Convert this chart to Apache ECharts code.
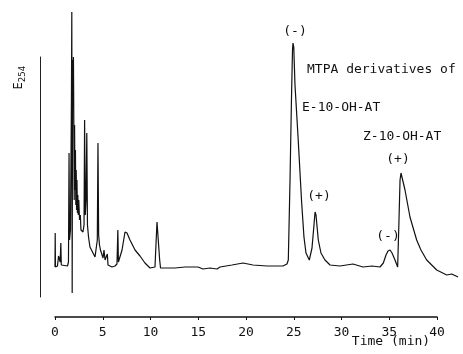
<!DOCTYPE html>
<html>
<head>
<meta charset="utf-8">
<script src="https://cdn.jsdelivr.net/npm/echarts@6/dist/echarts.min.js"></script>
<style>
html,body{margin:0;padding:0;background:#fff;}
#chart{width:463px;height:354px;}
</style>
</head>
<body>
<div id="chart"></div>
<script>
// Retention time (min)
var times = [0,0.02,0.05,0.26,0.37,0.47,0.54,0.61,0.66,0.84,1.31,1.41,1.47,1.52,1.62,1.72,1.76,1.80,1.84,1.88,1.93,1.97,2.01,2.05,2.09,2.14,2.18,2.22,2.26,2.30,2.35,2.39,2.44,2.49,2.57,2.65,2.72,2.83,2.93,3.04,3.10,3.17,3.25,3.33,3.40,3.51,3.66,3.98,4.19,4.35,4.43,4.50,4.57,4.66,4.76,4.92,5.03,5.13,5.24,5.39,5.48,5.55,5.97,6.28,6.49,6.58,6.64,6.81,7.02,7.33,7.54,7.85,8.38,8.90,9.42,9.95,10.47,10.63,10.68,10.79,10.87,10.96,11.05,11.52,12.57,13.61,14.97,15.50,16.23,16.96,17.28,18.53,19.69,20.73,22.20,23.87,24.29,24.43,24.61,24.76,24.87,24.92,25.00,25.13,25.45,25.83,26.07,26.28,26.63,26.91,27.12,27.23,27.33,27.57,27.85,28.27,28.80,29.84,31.20,32.25,33.19,34.03,34.38,34.66,34.87,35.08,35.29,35.60,35.88,36.02,36.13,36.23,36.34,36.65,37.17,37.87,38.32,38.92,39.97,41.02,41.54,42.20];
// Detector response E254 (arbitrary units, baseline ~ 0)
var absorbance = [0,34,0,1,11,9,5,24,2,1,1,5,114,27,37,167,255,-26,207,167,210,147,67,142,77,117,62,97,57,87,54,72,52,67,47,52,37,39,35,42,147,52,67,134,42,30,20,14,10,9,27,124,32,22,17,15,9,17,7,5,13,2,0,1,3,37,5,4,17,35,34,27,17,11,4,-1,0,1,45,43,45,7,-1,-1,-1,0,0,-2,-1,-2,0,2,4,2,1,1,3,7,87,167,217,224,220,182,130,64,30,14,7,19,42,55,52,27,14,7,2,1,3,0,1,0,4,12,16,17,14,7,0,47,87,94,92,77,50,27,17,7,-3,-8,-7,-10];
var xTicks = [0,5,10,15,20,25,30,35,40];
var traceEnd = 42.5; // recorder trace runs a little past the last tick

var FONT = '"DejaVu Sans Mono", "Liberation Mono", monospace';
var data = times.map(function(t,i){return [t, absorbance[i]];});

var pxPerMin = (437 - 55) / 40;
var chart = echarts.init(document.getElementById('chart'), null, {renderer:'canvas'});
chart.setOption({
  animation:false,
  backgroundColor:'#ffffff',
  grid:[
    {left:55, right:26, top:57, bottom:57},
    {left:55, right:463 - 55 - traceEnd * pxPerMin, top:57, bottom:57}
  ],
  xAxis:[{
    gridIndex:0, type:'value', min:xTicks[0], max:xTicks[xTicks.length-1], interval:5,
    position:'bottom', offset:20,
    axisLine:{show:true, onZero:false, lineStyle:{color:'#111', width:1.5}},
    axisTick:{show:true, length:3, lineStyle:{color:'#111'}},
    axisLabel:{color:'#111', fontFamily:FONT, fontSize:13, margin:9},
    splitLine:{show:false}
  },{
    gridIndex:1, type:'value', min:0, max:traceEnd, show:false
  }],
  yAxis:[{
    gridIndex:0, type:'value', min:-30, max:210,
    position:'left', offset:15,
    axisLine:{show:true, onZero:false, lineStyle:{color:'#222', width:1}},
    axisTick:{show:false}, axisLabel:{show:false}, splitLine:{show:false}
  },{
    gridIndex:1, type:'value', min:-30, max:210, show:false
  }],
  series:[{
    type:'line', xAxisIndex:1, yAxisIndex:1, data:data, showSymbol:false, clip:false,
    lineStyle:{color:'#111', width:1.2}
  }],
  graphic:[
    {type:'text', x:19, y:86, rotation:Math.PI/2, style:{text:'E', font:'12px '+FONT, fill:'#111', align:'center', verticalAlign:'middle'}},
    {type:'text', x:23, y:74, rotation:Math.PI/2, style:{text:'254', font:'9px '+FONT, fill:'#111', align:'center', verticalAlign:'middle'}},
    {type:'text', x:295, y:32, style:{text:'(-)', font:'13px '+FONT, fill:'#111', align:'center', verticalAlign:'middle'}},
    {type:'text', x:307, y:70, style:{text:'MTPA derivatives of', font:'13px '+FONT, fill:'#111', align:'left', verticalAlign:'middle'}},
    {type:'text', x:302, y:108, style:{text:'E-10-OH-AT', font:'13px '+FONT, fill:'#111', align:'left', verticalAlign:'middle'}},
    {type:'text', x:363, y:137, style:{text:'Z-10-OH-AT', font:'13px '+FONT, fill:'#111', align:'left', verticalAlign:'middle'}},
    {type:'text', x:398, y:160, style:{text:'(+)', font:'13px '+FONT, fill:'#111', align:'center', verticalAlign:'middle'}},
    {type:'text', x:319, y:197, style:{text:'(+)', font:'13px '+FONT, fill:'#111', align:'center', verticalAlign:'middle'}},
    {type:'text', x:388, y:237, style:{text:'(-)', font:'13px '+FONT, fill:'#111', align:'center', verticalAlign:'middle'}},
    {type:'text', x:391, y:342, style:{text:'Time (min)', font:'13px '+FONT, fill:'#111', align:'center', verticalAlign:'middle'}}
  ]
});
</script>
</body>
</html>
